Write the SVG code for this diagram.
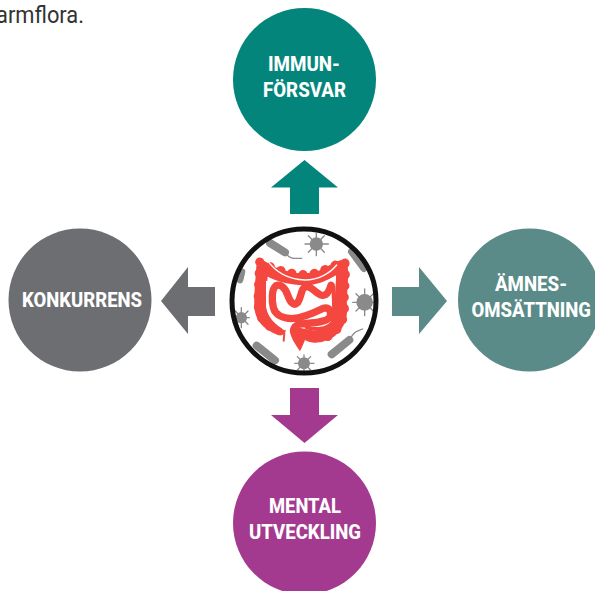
<svg xmlns="http://www.w3.org/2000/svg" width="595" height="591" viewBox="0 0 595 591">
<style>
.lbl{font-family:Roboto,"Liberation Sans",sans-serif;font-weight:800;font-size:20px;fill:#fff}
.g{fill:#8a8a8a}
.gs{stroke:#8a8a8a;fill:none;stroke-linecap:round}
.red{stroke:#f4473f;fill:none;stroke-linecap:round;stroke-linejoin:round}
.wh{stroke:#fff;fill:none;stroke-linecap:round;stroke-linejoin:round}
</style>
<rect width="595" height="591" fill="#fff"/>
<text x="-4" y="23" font-family="Roboto,'Liberation Sans',sans-serif" font-size="24" fill="#333" textLength="88" lengthAdjust="spacingAndGlyphs">armflora.</text>
<g id="connectors">
<path id="arrow-up" fill="#03857c" d="M304.500 160L338 187.500H319V214H290V187.500H271Z"/>
<path id="arrow-right" fill="#5a8b88" d="M447 301L419 334V316H392V287H419V267Z"/>
<path id="arrow-down" fill="#a43a90" d="M304.500 443L338 415H319V388H290V415H271Z"/>
<path id="arrow-left" fill="#6d6e71" d="M161 301L188 267V287H215V316H188V334Z"/>
</g>
<g id="node-immun"><circle cx="304.500" cy="79.500" r="71.500" fill="#03857c"/>
<text class="lbl" x="268" y="71" textLength="72" lengthAdjust="spacingAndGlyphs">IMMUN-</text><text class="lbl" x="263" y="96.500" textLength="83" lengthAdjust="spacingAndGlyphs">FÖRSVAR</text></g>
<g id="node-amnes"><circle cx="529.500" cy="300" r="71.500" fill="#5a8b88"/>
<text class="lbl" x="495" y="291" textLength="72" lengthAdjust="spacingAndGlyphs">ÄMNES-</text><text class="lbl" x="471.500" y="317" textLength="119.500" lengthAdjust="spacingAndGlyphs">OMSÄTTNING</text></g>
<g id="node-mental"><circle cx="304.500" cy="523" r="71.500" fill="#a43a90"/>
<text class="lbl" x="269" y="513" textLength="72" lengthAdjust="spacingAndGlyphs">MENTAL</text><text class="lbl" x="249" y="539" textLength="112" lengthAdjust="spacingAndGlyphs">UTVECKLING</text></g>
<g id="node-konkurrens"><circle cx="80" cy="300" r="71.500" fill="#6d6e71"/>
<text class="lbl" x="22" y="307" textLength="120" lengthAdjust="spacingAndGlyphs">KONKURRENS</text></g>
<g id="node-center">
<circle cx="304" cy="301" r="72" fill="#fff"/>
<g transform="translate(220 215) scale(.3333)">
<path class="gs" stroke-width="24" d="M150 84L195 112"/><path class="gs" stroke-width="4" d="M195 112C210 135 225 130 245 130"/>
<path class="gs" stroke-width="22" d="M395 110L432 160"/>
<path class="gs" stroke-width="20" d="M66 170L60 195"/>
<path class="gs" stroke-width="24" d="M110 392L165 436"/>
<path class="gs" stroke-width="24" d="M335 418L388 375"/><path class="gs" stroke-width="4" d="M388 375C405 345 410 350 428 342"/>
<circle cx="289" cy="87" r="20" class="g"/><path class="gs" stroke-width="4" d="M289 55V122M255 87H325M265 62L313 112M313 62L265 112"/>
<circle cx="434" cy="262" r="25" class="g"/><path class="gs" stroke-width="4" d="M434 222V302M398 262H470M408 236L460 288M460 236L408 288"/>
<circle cx="64" cy="308" r="17" class="g"/><path class="gs" stroke-width="4" d="M64 278V338M46 308H88M46 288L84 328M84 288L46 328"/>
<circle cx="252" cy="445" r="18" class="g"/><path class="gs" stroke-width="4" d="M252 420V470M224 445H282M232 425L272 465M272 425L232 465"/>
</g>
<g id="gut" transform="translate(255 250) scale(.3333)">
<path class="red" stroke-width="36" d="M75 238C40 225 18 205 16 170C14 130 20 90 22 50C60 76 100 88 150 88C200 88 220 64 260 48C265 90 255 130 258 170C262 215 235 258 180 260C160 262 150 245 130 245"/>
<path class="red" stroke-width="27" stroke-dasharray="1 33" d="M75 242C35 232 12 205 10 170C8 130 12 90 14 36C60 58 100 72 150 74C200 72 220 48 270 36C274 90 266 130 268 170C272 215 240 262 190 268"/>
<path fill="#f4473f" d="M108 248C113 220 150 216 162 238C172 255 165 264 150 270C145 282 140 294 135 304C125 287 106 265 108 248Z"/>
<path class="red" stroke-width="6" d="M78 235L88 250L86 272"/>
<path class="wh" stroke-width="4" d="M35 28C60 65 100 88 150 90C190 90 225 70 245 45"/>
<path fill="#fff" d="M33 92C90 110 190 112 240 92C240 140 242 180 234 215C210 240 170 245 130 232C110 232 92 250 80 235C50 215 30 190 33 150Z"/>
<path class="red" stroke-width="22" d="M228 106C222 125 215 138 202 136C185 134 175 112 155 110C138 110 140 140 128 158C115 170 105 155 98 135C90 112 75 100 62 108C50 118 50 150 55 172C60 195 85 205 110 206C140 205 175 190 205 175C222 170 232 185 224 202C212 218 170 218 135 222C118 226 112 240 118 252"/>
<path class="red" stroke-width="12" d="M235 110C236 150 242 190 232 218C215 240 180 240 155 232"/>
</g>
<circle cx="304" cy="301" r="72" fill="none" stroke="#111" stroke-width="5"/>
</g>
</svg>
